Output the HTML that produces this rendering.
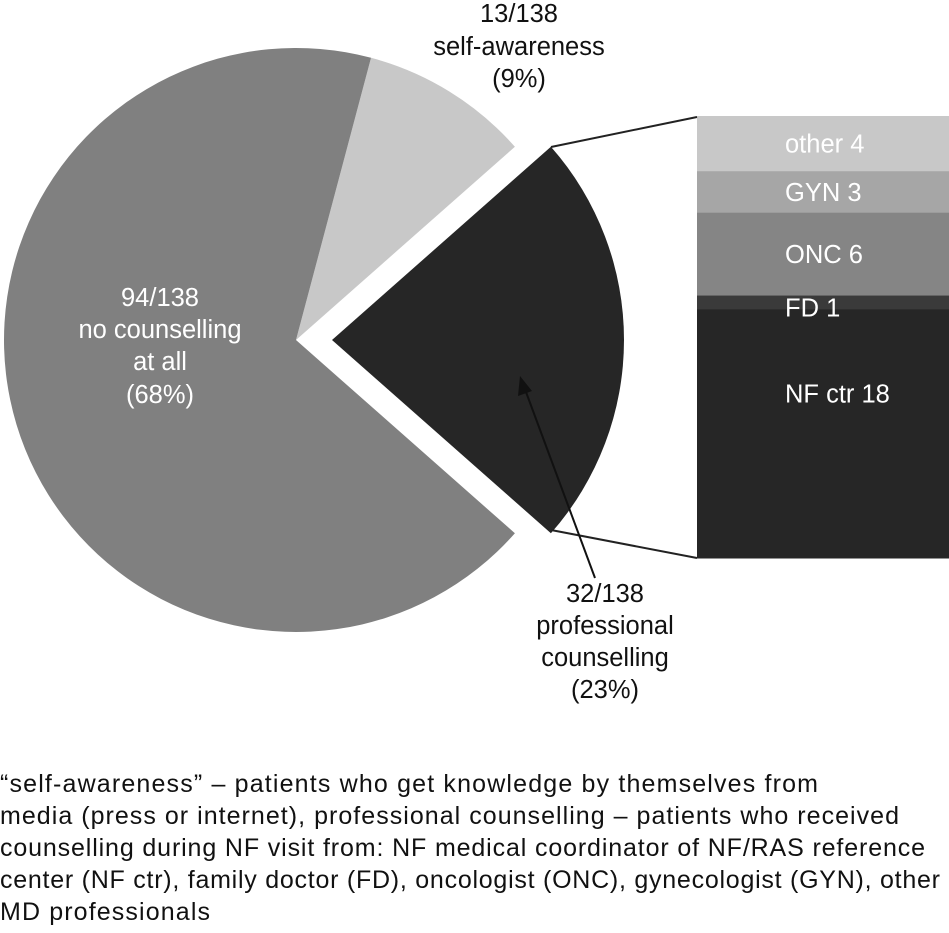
<!DOCTYPE html>
<html><head><meta charset="utf-8"><style>
html,body{margin:0;padding:0;background:#fff;}
svg{display:block;font-family:"Liberation Sans",sans-serif;}
</style></head><body>
<svg width="949" height="933" viewBox="0 0 949 933">
<g id="pie"></g>
<g id="bar"></g>
<g id="barlabels"></g>
<line x1="551" y1="147" x2="697" y2="117" stroke="#222" stroke-width="2"/>
<line x1="551" y1="530" x2="697" y2="558" stroke="#222" stroke-width="2"/>
<g font-size="25.5" text-anchor="middle" fill="#111">
<text x="519" y="22"><tspan x="519">13/138</tspan><tspan x="519" dy="33">self-awareness</tspan><tspan x="519" dy="32">(9%)</tspan></text>
<text x="160" y="306" fill="#fff"><tspan x="160">94/138</tspan><tspan x="160" dy="32">no counselling</tspan><tspan x="160" dy="32">at all</tspan><tspan x="160" dy="33">(68%)</tspan></text>
<text x="605" y="602"><tspan x="605">32/138</tspan><tspan x="605" dy="32">professional</tspan><tspan x="605" dy="32">counselling</tspan><tspan x="605" dy="32">(23%)</tspan></text>
</g>
<line x1="595" y1="578" x2="526" y2="392" stroke="#111" stroke-width="2"/>
<polygon points="520,376 518,396 532,391" fill="#111"/>
<g font-size="25" fill="#111">
<text x="0" y="792" textLength="818">“self-awareness” – patients who get knowledge by themselves from</text>
<text x="0" y="824" textLength="899">media (press or internet), professional counselling – patients who received</text>
<text x="0" y="856" textLength="925">counselling during NF visit from: NF medical coordinator of NF/RAS reference</text>
<text x="0" y="888" textLength="940">center (NF ctr), family doctor (FD), oncologist (ONC), gynecologist (GYN), other</text>
<text x="0" y="920" textLength="210">MD professionals</text>
</g>
</svg>
<script>
const pieCategories = ["no counselling at all", "self-awareness", "professional counselling"];
const pieValues = [94, 13, 32];
const barCategories = ["other", "GYN", "ONC", "FD", "NF ctr"];
const barValues = [4, 3, 6, 1, 18];
const NS = "http://www.w3.org/2000/svg";
const pieColors = ["#808080", "#c8c8c8", "#262626"];
const barColors = ["#c8c8c8", "#a6a6a6", "#858585", "#3a3a3a", "#262626"];
const pie = document.getElementById("pie");
const total = pieValues.reduce((a, b) => a + b, 0);
const R = 292;
const proAng = pieValues[2] / total * 360;
let start = proAng / 2;
const order = [1, 0, 2];
order.forEach(i => {
  const ang = pieValues[i] / total * 360;
  const end = start + ang;
  const cx = i === 2 ? 332 : 296, cy = 340;
  const a0 = start * Math.PI / 180, a1 = end * Math.PI / 180;
  const x0 = cx + R * Math.cos(a0), y0 = cy - R * Math.sin(a0);
  const x1 = cx + R * Math.cos(a1), y1 = cy - R * Math.sin(a1);
  const large = ang > 180 ? 1 : 0;
  const p = document.createElementNS(NS, "path");
  p.setAttribute("d", `M${cx},${cy} L${x0},${y0} A${R},${R} 0 ${large} 0 ${x1},${y1} Z`);
  p.setAttribute("fill", pieColors[i]);
  
  
  pie.appendChild(p);
  start = end % 360;
});
const bar = document.getElementById("bar");
const labels = document.getElementById("barlabels");
const barTotal = barValues.reduce((a, b) => a + b, 0);
const top0 = 116, H = 442, bx = 697, bw = 252;
let y = top0;
barValues.forEach((v, i) => {
  const h = v / barTotal * H;
  const r = document.createElementNS(NS, "rect");
  r.setAttribute("x", bx); r.setAttribute("y", y);
  r.setAttribute("width", bw); r.setAttribute("height", h + 0.5);
  r.setAttribute("fill", barColors[i]);
  
  
  bar.appendChild(r);
  const t = document.createElementNS(NS, "text");
  t.setAttribute("x", 785);
  t.setAttribute("y", i === 4 ? y + 93 : i === 3 ? y + 21 : y + h * 0.5 + 9);
  t.setAttribute("fill", "#fff");
  t.setAttribute("font-size", "25.5");
  t.textContent = barCategories[i] + " " + v;
  
  
  labels.appendChild(t);
  y += h;
});
</script>
</body></html>
